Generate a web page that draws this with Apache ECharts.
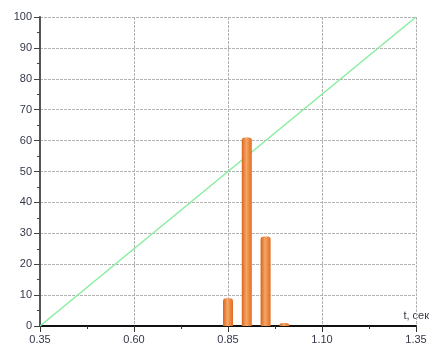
<!DOCTYPE html>
<html>
<head>
<meta charset="utf-8">
<script src="https://cdn.jsdelivr.net/npm/echarts@6/dist/echarts.min.js"></script>
<style>
  html, body { margin: 0; padding: 0; background: #fff; }
  #chart { width: 432px; height: 349px; }
</style>
</head>
<body>
<div id="chart"></div>
<script>
// histogram of times, sec
var barTimes = [0.85, 0.90, 0.95, 1.00];
var barCounts = [9, 61, 29, 1];

// cumulative reference line
var lineTimes = [0.35, 1.35];
var lineValues = [0, 100];

var xTicks = [0.35, 0.60, 0.85, 1.10, 1.35];

var labelColor = '#34374a';

var myChart = echarts.init(document.getElementById('chart'));

var barData = barTimes.map(function (t, i) { return [t, barCounts[i]]; });
var lineData = lineTimes.map(function (t, i) { return [t, lineValues[i]]; });

var option = {
    animation: false,
    grid: { left: 40, right: 16, top: 17, bottom: 23 },
    xAxis: {
        type: 'value',
        min: xTicks[0],
        max: xTicks[xTicks.length - 1],
        interval: 0.25,
        axisLine: { show: true, lineStyle: { color: '#111', width: 2 } },
        axisTick: { show: true, length: 6, inside: false, lineStyle: { color: '#333' } },
        minorTick: { show: true, splitNumber: 2, length: 3, lineStyle: { color: '#333' } },
        axisLabel: {
            color: labelColor, fontSize: 11, fontFamily: 'Liberation Sans', margin: 8,
            formatter: function (v) { return v.toFixed(2); }
        },
        splitLine: { show: true, lineStyle: { color: '#b3b3b3', type: [3, 1] } }
    },
    yAxis: {
        type: 'value',
        min: 0,
        max: 100,
        interval: 10,
        axisLine: { show: true, lineStyle: { color: '#555', width: 2 } },
        axisTick: { show: true, length: 6, lineStyle: { color: '#444' } },
        minorTick: { show: true, splitNumber: 2, length: 3, lineStyle: { color: '#444' } },
        axisLabel: { color: labelColor, fontSize: 11, fontFamily: 'Liberation Sans', margin: 8 },
        splitLine: { show: true, lineStyle: { color: '#b3b3b3', type: [3, 1] } }
    },
    graphic: [{
        type: 'text',
        right: 3,
        top: 310,
        style: { text: 't, сек', fill: labelColor, font: '11px "Liberation Sans"' }
    }],
    series: [
        {
            type: 'line',
            data: lineData,
            symbol: 'none',
            lineStyle: { color: '#86ee9e', width: 1.5 },
            z: 2
        },
        {
            type: 'bar',
            data: barData,
            barWidth: 10,
            itemStyle: {
                borderRadius: [3, 3, 0, 0],
                color: new echarts.graphic.LinearGradient(0, 0, 1, 0, [
                    { offset: 0, color: '#d8641c' },
                    { offset: 0.45, color: '#f6a665' },
                    { offset: 1, color: '#e06c22' }
                ])
            },
            z: 3
        }
    ]
};
myChart.setOption(option);
</script>
</body>
</html>
